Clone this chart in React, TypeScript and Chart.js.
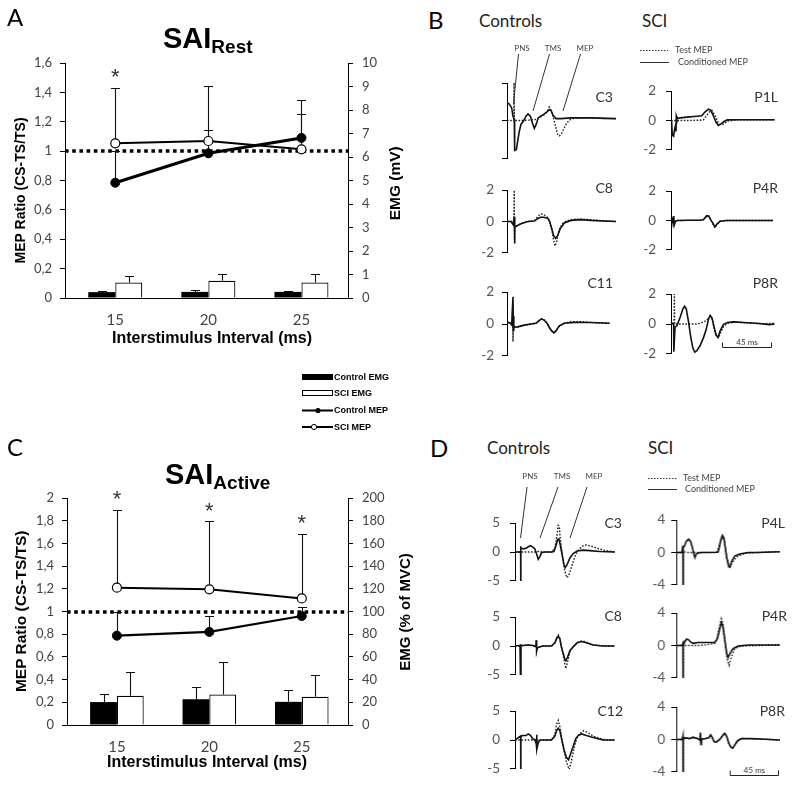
import React, { useEffect, useRef } from "react";
import { Chart, registerables } from "chart.js";
Chart.register(...registerables);

const ARIAL = "'Liberation Sans', Arial, sans-serif";
const CAL = "Lato, 'Open Sans', sans-serif";

// ---------------- Panel A / C data ----------------
const ISI = [15, 20, 25];
const ISI_LABELS = ["15", "20", "25"];

const A_CTRL_MEP = [0.785, 0.985, 1.09];
const A_CTRL_MEP_SD = [0.215, 0.16, 0.166];
const A_SCI_MEP = [1.053, 1.069, 1.012];
const A_SCI_MEP_SD = [0.38, 0.374, 0.336];
const A_CTRL_EMG = [0.25, 0.26, 0.26];
const A_CTRL_EMG_SD = [0.05, 0.1, 0.05];
const A_SCI_EMG = [0.66, 0.73, 0.66];
const A_SCI_EMG_SD = [0.27, 0.3, 0.37];
const A_SIG = [true, false, false];
const A_LEFT_TICKS = [0, 0.2, 0.4, 0.6, 0.8, 1, 1.2, 1.4, 1.6];
const A_LEFT_LABELS = ["0", "0,2", "0,4", "0,6", "0,8", "1", "1,2", "1,4", "1,6"];
const A_RIGHT_TICKS = [0, 1, 2, 3, 4, 5, 6, 7, 8, 9, 10];
const A_RIGHT_LABELS = ["0", "1", "2", "3", "4", "5", "6", "7", "8", "9", "10"];

const C_CTRL_MEP = [0.787, 0.82, 0.96];
const C_CTRL_MEP_SD = [0.21, 0.14, 0.08];
const C_SCI_MEP = [1.21, 1.195, 1.115];
const C_SCI_MEP_SD = [0.685, 0.6, 0.57];
const C_CTRL_EMG = [20.2, 22.7, 20.4];
const C_CTRL_EMG_SD = [7.3, 10.5, 10.8];
const C_SCI_EMG = [25.7, 26.8, 24.8];
const C_SCI_EMG_SD = [20.7, 28.3, 19.5];
const C_SIG = [true, true, true];
const C_LEFT_TICKS = [0, 0.2, 0.4, 0.6, 0.8, 1, 1.2, 1.4, 1.6, 1.8, 2];
const C_LEFT_LABELS = ["0", "0,2", "0,4", "0,6", "0,8", "1", "1,2", "1,4", "1,6", "1,8", "2"];
const C_RIGHT_TICKS = [0, 20, 40, 60, 80, 100, 120, 140, 160, 180, 200];
const C_RIGHT_LABELS = ["0", "20", "40", "60", "80", "100", "120", "140", "160", "180", "200"];

const REF_RATIO = 1;

// ---------------- Waveforms [ms, value] ----------------
const B_C3_TEST = [[0,0],[6.2,0],[6.5,2.1],[6.8,0],[12,0],[20,0.02],[26,0.05],[30,0.15],[34,0.3],[37,0.5],[38.8,0.72],[40.4,0.55],[42.5,0.15],[44.5,-0.3],[46.5,-0.75],[48,-0.82],[50,-0.7],[52.5,-0.4],[55,-0.12],[58,0.05],[62,0.12],[70,0.15],[80,0.13],[90,0.1],[100,0.1]];
const B_C3_COND = [[0,0.95],[2.1,0.88],[4.3,0.67],[5.5,0.23],[6.7,0.05],[7,-1.6],[8.6,-1.55],[9.8,-1.1],[11.3,-0.57],[12.8,-0.21],[15,-0.04],[17.4,0.23],[19.3,0.35],[21.4,0.23],[23.2,-0.12],[25.1,-0.42],[26.9,-0.18],[28.7,0.14],[31.2,0.25],[34.3,0.35],[36.7,0.46],[38.8,0.58],[40.4,0.53],[42.2,0.28],[45,0.1],[49.5,0.1],[58.7,0.14],[77,0.14],[100,0.1]];
const B_C8_TEST = [[0,0],[5,0],[6.3,-0.1],[6.6,2.0],[6.9,-1.2],[7.3,-0.35],[9.2,-0.27],[12.8,-0.14],[19,0],[25.1,0.05],[28.1,0.3],[30.6,0.48],[33.6,0.45],[37.3,0.25],[39.1,0],[41,-0.5],[42.8,-1.2],[44,-1.56],[45.5,-1.3],[47.5,-0.6],[50.5,-0.15],[55,0.05],[61,0.14],[70,0.14],[77,0.12],[85,0.05],[100,0]];
const B_C8_COND = [[0,0],[3.7,0],[5.5,-0.18],[6.7,0.3],[6.9,-1.4],[7.3,-0.36],[9.2,-0.27],[12.8,-0.14],[19,0],[25.1,0.03],[28.1,0.18],[30.6,0.27],[33.6,0.27],[37.3,0.21],[39.1,0],[41,-0.44],[42.8,-0.9],[44.6,-1.07],[46.5,-0.9],[48.9,-0.44],[52.6,-0.09],[58.7,0.07],[67.9,0.12],[77.1,0.07],[100,0]];
const B_C11_TEST = [[0,0.1],[3.1,0.05],[4.8,-0.05],[5.2,1.2],[5.5,-1.1],[5.8,0.3],[6.1,-0.2],[6.7,-0.2],[9.8,-0.18],[15.9,-0.07],[22,0],[26.6,0.05],[29.7,0.23],[31.8,0.32],[34.3,0.25],[36.7,0.05],[39.1,-0.25],[41.6,-0.5],[43.4,-0.6],[45.3,-0.42],[48,-0.12],[52.6,0.05],[58,0.14],[70,0.14],[77,0.09],[94,0.05]];
const B_C11_COND = [[0,0.14],[3.1,0.05],[4.3,-0.05],[5.5,1.7],[5.8,-0.4],[6.1,0.5],[6.4,-0.2],[9.8,-0.18],[15.9,-0.07],[22,0],[26.6,0.05],[29.7,0.23],[31.8,0.32],[34.3,0.23],[36.7,0.05],[39.1,-0.25],[41.6,-0.47],[43.4,-0.53],[45.3,-0.39],[48,-0.12],[52.6,0.05],[61.8,0.1],[77.1,0.09],[94,0.05]];
const B_P1L_TEST = [[0,0],[5.5,0],[14.7,0],[26.9,0.02],[30,0.05],[33,0.36],[36.1,0.64],[37.9,0.68],[40.4,0.36],[43.4,-0.12],[45.9,-0.3],[48.3,-0.25],[52,-0.04],[60.6,0.04],[95.7,0.05]];
const B_P1L_COND = [[0,0],[0.6,-0.12],[1.2,-1.0],[2.4,-1.07],[3.4,-0.57],[4.3,-0.3],[4.6,-0.75],[4.9,0.3],[5.5,0.14],[8.6,0.18],[14.7,0.23],[23.9,0.29],[28.4,0.32],[31.5,0.59],[34.6,0.77],[36.7,0.71],[39.1,0.32],[41.6,-0.12],[43.7,-0.34],[45.9,-0.25],[48.9,-0.07],[52,0.04],[60.6,0.05],[95.7,0.05]];
const B_P4R_TEST = [[0,0],[1.2,0.1],[1.8,-0.2],[2.4,0.3],[3.1,-0.3],[4.3,0],[17.7,0.01],[26.9,0.01],[30,0.05],[33,0.3],[34.9,0.3],[36.7,0.05],[39.1,-0.3],[40.7,-0.49],[42.2,-0.3],[45.3,-0.05],[51.4,0],[72.8,0],[94.2,0]];
const B_P4R_COND = [[0,0],[1.2,0.12],[1.8,-0.19],[2.4,0.3],[3.1,-0.26],[4.3,-0.05],[5.5,0],[17.7,0.02],[26.9,0.02],[30,0.07],[33,0.33],[34.9,0.3],[36.7,0.04],[39.1,-0.23],[40.4,-0.44],[42.2,-0.26],[45.3,-0.05],[51.4,0],[72.8,0],[94.2,0]];
const B_P8R_TEST = [[0,0],[2.8,0],[3.1,2.0],[3.4,0],[5.5,0],[23.9,0],[26.9,0.05],[30,0.14],[32.4,0.23],[34.6,0.4],[36.1,0.49],[37.9,0.32],[39.8,-0.3],[41.6,-0.7],[44,-0.91],[45.9,-0.56],[48.9,-0.12],[52.9,0.05],[60.6,0.14],[72.8,0.05],[85,0.02],[95.7,0.05]];
const B_P8R_COND = [[0,0],[1.2,0.05],[2.4,0],[2.6,-1.85],[3.7,-0.21],[5.5,-0.12],[8.6,0.49],[11,1.02],[12.5,1.19],[14.1,1.02],[16.2,0.14],[18.3,-0.91],[20.2,-1.61],[22,-1.88],[23.9,-1.79],[26.9,-1.44],[30,-0.91],[32.4,-0.39],[34.6,0.32],[36.1,0.58],[37.9,0.4],[39.8,-0.21],[41.6,-0.74],[43.4,-0.91],[45.3,-0.47],[48.3,-0.04],[52,0.1],[57.5,0.14],[66.7,0.1],[78.9,0.05],[91.1,-0.04],[95.7,0]];

const D_C3_TEST = [[0,0],[18,0],[19.9,0],[21.4,0.1],[24.5,0],[33.6,0],[36.7,0.75],[38.2,2.34],[39.8,4.6],[40.7,4.5],[41.9,1.9],[43.7,-0.81],[45.6,-3.06],[47.4,-4.41],[49.2,-4.19],[52,-2.6],[55,-0.81],[58.1,0.32],[62.7,1.08],[65.7,1.22],[71.9,0.9],[81,0.32],[91.7,0]];
const D_C3_COND = [[0,0],[5.2,0],[5.3,1.0],[5.35,-9],[5.45,0.5],[6.1,0.63],[7.6,0.54],[10.1,0.63],[12.2,0.9],[14.4,1.08],[16.2,0.9],[18.3,0.54],[19.9,-0.36],[21.4,-1.26],[22.9,-0.81],[24.5,-0.1],[27.5,0],[33.6,0],[35.8,0.09],[37.6,0.99],[39.1,2.1],[40.4,2.25],[41.9,0.99],[43.7,-0.81],[45,-2.16],[46.2,-2.7],[48,-2.16],[50.5,-1.04],[53.5,-0.27],[57.2,0.18],[62.7,0.32],[68.8,0.23],[78,0.09],[91.7,0]];
const D_C8_TEST = [[0,0],[4.6,0.05],[5.2,0.2],[5.3,-9],[5.45,0.1],[7.6,0.09],[12.2,0.15],[16.8,0.05],[19.3,-0.2],[19.6,1.0],[19.9,-0.9],[20.5,-0.36],[22.9,-0.1],[26,0],[33.6,0],[36.7,0.6],[38.2,1.4],[39.8,1.9],[41.3,1.3],[42.5,0],[44.3,-1.5],[45.9,-3.2],[46.8,-3.9],[48.3,-2.8],[50.5,-1.0],[53.5,-0.1],[57.2,0.6],[62.1,0.9],[65.7,0.65],[71.9,0.2],[81,0],[91.7,0]];
const D_C8_COND = [[0,0],[4.6,0.09],[5.2,0.3],[5.3,-9],[5.45,0.1],[7.6,0.09],[12.2,0.18],[16.8,0.09],[19.3,-0.14],[19.6,1.0],[19.9,-0.82],[20.5,-0.36],[22.9,-0.14],[26,0],[33.6,0],[36.7,0.55],[38.2,1.23],[39.8,1.68],[41.3,1.23],[42.5,0],[44.3,-1.27],[45.9,-2.27],[46.8,-2.55],[48.3,-1.95],[50.5,-0.82],[53.5,-0.14],[57.2,0.55],[61.2,0.77],[65.7,0.55],[71.9,0.18],[81,0],[91.7,0]];
const D_C12_TEST = [[0,0],[18.3,0],[19.6,0.3],[19.9,-1.6],[20.2,0.2],[21.4,-0.2],[23.2,0],[33.6,0],[36.7,0.9],[38.2,2.7],[39.8,3.4],[41.3,2.3],[43.1,0.2],[45,-1.8],[47.4,-3.86],[49.8,-5.1],[51.7,-3.86],[54.1,-1.6],[56.6,0.2],[59,1.0],[62.7,1.59],[66.4,1.36],[71.9,0.68],[81,0.09],[91.7,0]];
const D_C12_COND = [[0,0],[5.2,0.7],[5.3,-9],[5.45,0.6],[6.1,0.68],[7.6,0.77],[10.1,0.77],[12.2,1.05],[14.4,0.77],[16.2,0.23],[18.3,0],[19.6,-0.68],[19.9,0.9],[20.2,-1.6],[21.4,-0.45],[23.2,0],[26,0],[33.6,0],[36.7,0.68],[38.2,1.59],[39.8,2.05],[41.3,1.59],[42.8,0.23],[45,-1.59],[47.4,-3.05],[49.2,-3.4],[50.9,-2.5],[53.5,-1.14],[55.9,0.23],[58.1,0.77],[61.2,1.05],[65.7,0.77],[71.9,0.45],[81,0],[91.7,0]];

const D_P4L_TEST = [[0,0],[5.5,0],[6.1,0.8],[6.2,-9],[6.4,0.1],[10,0],[20,0],[36.7,0],[38.2,0.4],[40.7,1.4],[42.2,2.0],[44.3,1.2],[46.2,-0.62],[48.6,-1.96],[50.5,-1.4],[55,-0.55],[62.7,-0.1],[80,0.05],[94.8,0.1]];
const D_P4L_COND = [[0,0],[5.2,0],[6.1,0.84],[6.2,-9],[6.35,0.6],[6.7,0.65],[7.6,0.84],[9.2,1.38],[11.3,1.64],[13.1,1.38],[15,0.47],[16.2,-0.25],[17.1,-0.62],[18.3,-0.18],[19.9,-0.07],[22.9,0],[38.2,0.04],[39.4,0.65],[40.7,1.56],[42.2,2.1],[43.7,1.75],[45,0.47],[46.2,-0.62],[48,-1.71],[49.2,-1.82],[50.5,-1.16],[53.5,-0.44],[58.1,-0.18],[65.7,0],[74.9,0],[94.8,0.1]];
const D_P4R_TEST = [[0,0],[5.5,0],[6.1,0.2],[6.2,-9],[6.4,0],[20,0],[26,0.05],[35.2,0.25],[37.6,0.98],[40.4,2.83],[41.3,3.3],[42.8,2.6],[45,0.07],[46.8,-1.76],[48.3,-2.43],[50.5,-1.4],[53.5,-0.37],[59.6,-0.07],[94.8,0.07]];
const D_P4R_COND = [[0,0],[5.2,0],[6.1,0.26],[6.2,-9],[6.35,0.1],[6.7,0.07],[7.6,0.44],[9.5,0.81],[11.3,0.7],[13.1,0.44],[15.3,0.26],[19.9,0.37],[26,0.37],[35.2,0.37],[37.6,0.81],[39.8,2.1],[41.3,2.83],[42.5,2.46],[44.3,0.81],[46.2,-1.03],[47.4,-1.47],[49.2,-0.96],[52,-0.37],[56.6,-0.07],[65.7,0.07],[94.8,0.07]];
const D_P8R_TEST = [[0,0],[5.5,0],[6.1,0.4],[6.2,-9],[6.4,0.1],[9.2,0.2],[12.2,0.1],[15.3,0.25],[19.9,0.1],[21.4,-0.05],[22,0.84],[22.6,-0.62],[23,0.05],[26,0.1],[29.7,0.2],[31.5,0.55],[32.7,0.3],[34.6,-0.2],[36.7,-0.3],[39.8,0],[42.5,0.48],[44.3,0.77],[46.2,0.4],[48,-0.44],[49.8,-0.92],[51.7,-1.06],[53.5,-0.7],[56,-0.18],[59.6,0.11],[68.8,0.11],[81,0.04],[94.8,-0.07]];
const D_P8R_COND = [[0,0],[5.5,0],[6.1,0.4],[6.2,-9],[6.4,0.1],[9.2,0.2],[12.2,0.1],[15.3,0.29],[19.9,0.1],[21.4,-0.05],[22,0.84],[22.6,-0.62],[23,0.05],[26,0.1],[29.7,0.2],[31.5,0.55],[32.7,0.3],[34.6,-0.26],[36.7,-0.33],[39.8,0],[42.5,0.48],[44.3,0.77],[46.2,0.4],[48,-0.44],[49.8,-0.92],[51.7,-1.06],[53.5,-0.7],[56,-0.18],[59.6,0.11],[68.8,0.11],[81,0.04],[94.8,-0.07]];

const B_TICK_LABELS = ["-2", "0", "2"];
const D_CTRL_TICK_LABELS = ["-5", "0", "5"];
const D_SCI_TICK_LABELS = ["-4", "0", "4"];
const SCALE_BAR_MS = 45;
const SCALE_BAR_LABEL = "45 ms";

// ---------------- helpers ----------------
const PX_PER_MS = 1.09;

function ChartBox({ x, y, w, h, make }: any) {
  const ref = useRef<HTMLCanvasElement>(null);
  useEffect(() => {
    const c = new Chart(ref.current as HTMLCanvasElement, make());
    return () => c.destroy();
  }, []);
  return (
    <canvas ref={ref} width={w} height={h}
      style={{ position: "absolute", left: x, top: y, width: w, height: h }} />
  );
}

function T({ x, y, children, size = 14, align = "left", weight = 400, family = CAL, color = "#000", rotate = false }: any) {
  const lh = size * 1.2;
  const st: any = {
    position: "absolute", top: y - lh / 2, height: lh, lineHeight: lh + "px",
    fontSize: size, fontWeight: weight, fontFamily: family, color, whiteSpace: "nowrap",
  };
  if (align === "left") { st.left = x; }
  else if (align === "right") { st.left = x - 300; st.width = 300; st.textAlign = "right"; }
  else { st.left = x - 150; st.width = 300; st.textAlign = "center"; }
  if (rotate) { st.transform = "rotate(-90deg)"; st.transformOrigin = "50% 50%"; }
  return <div style={st}>{children}</div>;
}

const mainDeco = {
  id: "mainDeco",
  beforeDatasetsDraw(chart: any) {
    const o = chart.options.plugins.mainDeco;
    const { ctx, chartArea } = chart;
    const ys = chart.scales.y;
    ctx.save();
    const yr = Math.round(ys.getPixelForValue(o.refValue));
    ctx.strokeStyle = "#000";
    ctx.lineWidth = 3.5;
    ctx.setLineDash([3.6, 3.6]);
    ctx.beginPath();
    ctx.moveTo(chartArea.left, yr);
    ctx.lineTo(chartArea.right, yr);
    ctx.stroke();
    ctx.setLineDash([]);
    ctx.lineWidth = 1.1;
    ctx.strokeStyle = "#111";
    chart.data.datasets.forEach((ds: any, di: number) => {
      if (!ds.errors) return;
      const meta = chart.getDatasetMeta(di);
      const sc = chart.scales[meta.yAxisID];
      meta.data.forEach((el: any, i: number) => {
        const v = ds.data[i].y;
        const x = Math.round(el.x) + 0.5;
        const y0 = sc.getPixelForValue(v);
        const y1 = Math.round(sc.getPixelForValue(v + ds.errors[i])) + 0.5;
        ctx.beginPath();
        ctx.moveTo(x, y0);
        ctx.lineTo(x, y1);
        ctx.moveTo(x - 4.5, y1);
        ctx.lineTo(x + 4.5, y1);
        ctx.stroke();
      });
    });
    ctx.restore();
  },
  afterDatasetsDraw(chart: any) {
    const { ctx } = chart;
    ctx.save();
    ctx.fillStyle = "#333";
    ctx.font = "22px " + ARIAL;
    ctx.textAlign = "center";
    ctx.textBaseline = "alphabetic";
    chart.data.datasets.forEach((ds: any, di: number) => {
      if (!ds.sig) return;
      const meta = chart.getDatasetMeta(di);
      const sc = chart.scales[meta.yAxisID];
      meta.data.forEach((el: any, i: number) => {
        if (!ds.sig[i]) return;
        const top = sc.getPixelForValue(ds.data[i].y + ds.errors[i]);
        ctx.fillText("*", el.x, top - 16 + 12.5);
      });
    });
    ctx.restore();
  },
};

function mainConfig(p: any) {
  const pts = (arr: number[]) => ISI.map((x, i) => ({ x, y: arr[i] }));
  const tickFont = { family: CAL, size: 13 };
  return {
    type: "bar",
    data: {
      datasets: [
        { type: "line", label: "Control MEP", data: pts(p.ctrlMep), errors: p.ctrlMepSd, yAxisID: "y",
          borderColor: "#000", borderWidth: p.ctrlLineW, pointRadius: 4.5, pointBackgroundColor: "#000",
          pointBorderColor: "#000", pointBorderWidth: 1, order: 0 },
        { type: "line", label: "SCI MEP", data: pts(p.sciMep), errors: p.sciMepSd, sig: p.sig, yAxisID: "y",
          borderColor: "#000", borderWidth: p.sciLineW, pointRadius: 4.5, pointBackgroundColor: "#fff",
          pointBorderColor: "#000", pointBorderWidth: 1.2, order: 0 },
        { type: "bar", label: "Control EMG", data: pts(p.ctrlEmg), errors: p.ctrlEmgSd, yAxisID: "y2",
          backgroundColor: "#000", borderColor: "#000", borderWidth: 0, order: 1,
          categoryPercentage: 0.58, barPercentage: 1 },
        { type: "bar", label: "SCI EMG", data: pts(p.sciEmg), errors: p.sciEmgSd, yAxisID: "y2",
          backgroundColor: "#fff", borderColor: "#000", borderWidth: 1.2, order: 1,
          categoryPercentage: 0.58, barPercentage: 1 },
      ],
    },
    options: {
      animation: false, responsive: false, maintainAspectRatio: false, events: [],
      layout: { padding: { top: p.padTop, left: 0, right: 0, bottom: 0 } },
      plugins: { legend: { display: false }, tooltip: { enabled: false }, mainDeco: { refValue: REF_RATIO } },
      scales: {
        x: {
          type: "linear", min: 12.3, max: 27.5, offset: false,
          afterBuildTicks: (s: any) => { s.ticks = ISI.map((v) => ({ value: v })); },
          afterFit: (s: any) => { s.height = p.xh; },
          ticks: { callback: (_v: any, i: number) => ISI_LABELS[i], color: "#444",
            font: { family: CAL, size: 15 }, padding: 13, maxRotation: 0, autoSkip: false },
          grid: { display: false, drawTicks: false },
          border: { display: true, color: "#000", width: 1 },
        },
        y: {
          position: "left", min: 0, max: p.leftTicks[p.leftTicks.length - 1],
          afterBuildTicks: (s: any) => { s.ticks = p.leftTicks.map((v: number) => ({ value: v })); },
          afterFit: (s: any) => { s.width = p.leftW; },
          ticks: { callback: (_v: any, i: number) => p.leftLabels[i], color: "#444", font: tickFont, padding: 8 },
          grid: { drawOnChartArea: false, drawTicks: true, tickLength: 5, color: "#000", lineWidth: 1 },
          border: { display: true, color: "#000", width: 1 },
        },
        y2: {
          position: "right", min: 0, max: p.rightTicks[p.rightTicks.length - 1],
          afterBuildTicks: (s: any) => { s.ticks = p.rightTicks.map((v: number) => ({ value: v })); },
          afterFit: (s: any) => { s.width = p.rightW; },
          ticks: { callback: (_v: any, i: number) => p.rightLabels[i], color: "#444", font: tickFont, padding: 9 },
          grid: { drawOnChartArea: false, drawTicks: true, tickLength: 5, color: "#000", lineWidth: 1 },
          border: { display: true, color: "#000", width: 1 },
        },
      },
    },
    plugins: [mainDeco],
  };
}

const scaleBarPlugin = {
  id: "scaleBar",
  afterDatasetsDraw(chart: any) {
    const o = chart.options.plugins.scaleBar;
    if (!o || !o.on) return;
    const { ctx } = chart;
    const xs = chart.scales.x, ys = chart.scales.y;
    const x0 = Math.round(xs.getPixelForValue(o.t0)) + 0.5;
    const x1 = Math.round(xs.getPixelForValue(o.t0 + SCALE_BAR_MS)) + 0.5;
    const y = Math.round(ys.getPixelForValue(o.v)) + 0.5;
    ctx.save();
    ctx.strokeStyle = "#222";
    ctx.lineWidth = 1;
    ctx.beginPath();
    ctx.moveTo(x0, y - 5); ctx.lineTo(x0, y); ctx.lineTo(x1, y); ctx.lineTo(x1, y - 5);
    ctx.stroke();
    ctx.fillStyle = "#333";
    ctx.font = "8px " + CAL;
    ctx.textAlign = "center";
    ctx.textBaseline = "middle";
    ctx.fillText(SCALE_BAR_LABEL, (x0 + x1) / 2, y - 5);
    ctx.restore();
  },
};

const PT = 10, PB = 10, AXW = 40;

function traceConfig(t: any) {
  const pts = (a: number[][]) => a.map(([x, y]) => ({ x, y }));
  return {
    type: "line",
    data: {
      datasets: [
        { data: pts(t.test), borderColor: "#222", borderWidth: 1.4, borderDash: [1.6, 1.6],
          pointRadius: 0, order: 1 },
        { data: pts(t.cond), borderColor: "#111", borderWidth: 1.6, pointRadius: 0, order: 0 },
      ],
    },
    options: {
      animation: false, responsive: false, maintainAspectRatio: false, events: [],
      layout: { padding: { top: PT, bottom: PB, left: 0, right: 3 } },
      plugins: { legend: { display: false }, tooltip: { enabled: false },
        scaleBar: t.bar ? { on: true, t0: t.bar.t0, v: t.bar.v } : { on: false } },
      scales: {
        x: { type: "linear", display: false, min: 0, max: t.col.xmax },
        y: {
          min: -t.range, max: t.range,
          afterBuildTicks: (s: any) => { s.ticks = [-t.range, 0, t.range].map((v) => ({ value: v })); },
          afterFit: (s: any) => { s.width = AXW; },
          ticks: { display: !!t.labels, callback: (_v: any, i: number) => (t.labels ? t.labels[i] : ""),
            color: "#555", font: { family: CAL, size: 13.5 }, padding: t.col.pad },
          grid: { drawOnChartArea: false, drawTicks: true, tickLength: 5, color: "#000", lineWidth: 1 },
          border: { display: true, color: "#000", width: 1 },
        },
      },
    },
    plugins: [scaleBarPlugin],
  };
}

const B_CTRL = { axisX: 506.5, xmax: 100, pad: 8 };
const B_SCI = { axisX: 670.5, xmax: 96, pad: 10 };
const D_CTRL = { axisX: 515, xmax: 92, pad: 10 };
const D_SCI = { axisX: 676, xmax: 95, pad: 6 };

const TRACES = [
  { name: "C3", col: B_CTRL, top: 83, bottom: 158, range: 2, labels: null, test: B_C3_TEST, cond: B_C3_COND, nx: 613, ny: 97 },
  { name: "C8", col: B_CTRL, top: 184, bottom: 259, range: 2, labels: B_TICK_LABELS, test: B_C8_TEST, cond: B_C8_COND, nx: 613, ny: 188 },
  { name: "C11", col: B_CTRL, top: 286, bottom: 362, range: 2, labels: B_TICK_LABELS, test: B_C11_TEST, cond: B_C11_COND, nx: 613, ny: 283 },
  { name: "P1L", col: B_SCI, top: 83, bottom: 158, range: 2, labels: B_TICK_LABELS, test: B_P1L_TEST, cond: B_P1L_COND, nx: 778, ny: 97 },
  { name: "P4R", col: B_SCI, top: 183, bottom: 258, range: 2, labels: B_TICK_LABELS, test: B_P4R_TEST, cond: B_P4R_COND, nx: 778, ny: 188 },
  { name: "P8R", col: B_SCI, top: 286, bottom: 362, range: 2, labels: B_TICK_LABELS, test: B_P8R_TEST, cond: B_P8R_COND, nx: 778, ny: 283, bar: { t0: 47, v: -1.56 } },
  { name: "C3", col: D_CTRL, top: 515, bottom: 589, range: 5, labels: D_CTRL_TICK_LABELS, test: D_C3_TEST, cond: D_C3_COND, nx: 622, ny: 523 },
  { name: "C8", col: D_CTRL, top: 609, bottom: 683, range: 5, labels: D_CTRL_TICK_LABELS, test: D_C8_TEST, cond: D_C8_COND, nx: 622, ny: 616 },
  { name: "C12", col: D_CTRL, top: 703, bottom: 777, range: 5, labels: D_CTRL_TICK_LABELS, test: D_C12_TEST, cond: D_C12_COND, nx: 623, ny: 711 },
  { name: "P4L", col: D_SCI, top: 516, bottom: 589, range: 4, labels: D_SCI_TICK_LABELS, test: D_P4L_TEST, cond: D_P4L_COND, nx: 785, ny: 523 },
  { name: "P4R", col: D_SCI, top: 609, bottom: 682, range: 4, labels: D_SCI_TICK_LABELS, test: D_P4R_TEST, cond: D_P4R_COND, nx: 787, ny: 616 },
  { name: "P8R", col: D_SCI, top: 703, bottom: 776, range: 4, labels: D_SCI_TICK_LABELS, test: D_P8R_TEST, cond: D_P8R_COND, nx: 785, ny: 711, bar: { t0: 48.6, v: -4.44 } },
];

const A_CFG = { ctrlMep: A_CTRL_MEP, ctrlMepSd: A_CTRL_MEP_SD, sciMep: A_SCI_MEP, sciMepSd: A_SCI_MEP_SD,
  ctrlEmg: A_CTRL_EMG, ctrlEmgSd: A_CTRL_EMG_SD, sciEmg: A_SCI_EMG, sciEmgSd: A_SCI_EMG_SD, sig: A_SIG,
  leftTicks: A_LEFT_TICKS, leftLabels: A_LEFT_LABELS, rightTicks: A_RIGHT_TICKS, rightLabels: A_RIGHT_LABELS,
  padTop: 63, leftW: 65, rightW: 52, xh: 32, ctrlLineW: 3, sciLineW: 2 };
const C_CFG = { ctrlMep: C_CTRL_MEP, ctrlMepSd: C_CTRL_MEP_SD, sciMep: C_SCI_MEP, sciMepSd: C_SCI_MEP_SD,
  ctrlEmg: C_CTRL_EMG, ctrlEmgSd: C_CTRL_EMG_SD, sciEmg: C_SCI_EMG, sciEmgSd: C_SCI_EMG_SD, sig: C_SIG,
  leftTicks: C_LEFT_TICKS, leftLabels: C_LEFT_LABELS, rightTicks: C_RIGHT_TICKS, rightLabels: C_RIGHT_LABELS,
  padTop: 78, leftW: 67, rightW: 52, xh: 45, ctrlLineW: 2.2, sciLineW: 2 };

export default function App() {
  return (
    <div style={{ position: "absolute", left: 0, top: 0, width: 794, height: 796, background: "#fff", overflow: "hidden" }}>
      <ChartBox x={0} y={0} w={400} h={330} make={() => mainConfig(A_CFG)} />
      <ChartBox x={0} y={420} w={400} h={350} make={() => mainConfig(C_CFG)} />
      {TRACES.map((t, i) => {
        const w = AXW + t.col.xmax * PX_PER_MS + 3;
        const h = t.bottom - t.top + PT + PB;
        return <ChartBox key={i} x={t.col.axisX - AXW} y={t.top - PT} w={w} h={h} make={() => traceConfig(t)} />;
      })}
      {TRACES.map((t, i) => (
        <T key={"n" + i} x={t.nx} y={t.ny} align="right" size={14} color="#333">{t.name}</T>
      ))}

      {/* panel letters and headings */}
      <T x={7} y={17} size={24}>A</T>
      <T x={428} y={20} size={24}>B</T>
      <T x={7} y={447} size={24}>C</T>
      <T x={430} y={448} size={24}>D</T>
      <T x={479} y={21} size={17} color="#222">Controls</T>
      <T x={642} y={21} size={17} color="#222">SCI</T>
      <T x={487} y={448} size={17} color="#222">Controls</T>
      <T x={648} y={448} size={17} color="#222">SCI</T>

      <div style={{ position: "absolute", left: 163, top: 21, fontFamily: ARIAL, fontWeight: 700, fontSize: 29, lineHeight: "34px", whiteSpace: "nowrap" }}>
        SAI<span style={{ fontSize: 19, position: "relative", top: 5 }}>Rest</span>
      </div>
      <div style={{ position: "absolute", left: 165, top: 457, fontFamily: ARIAL, fontWeight: 700, fontSize: 29, lineHeight: "34px", whiteSpace: "nowrap" }}>
        SAI<span style={{ fontSize: 19, position: "relative", top: 5 }}>Active</span>
      </div>

      {/* axis titles */}
      <T x={20} y={190} size={14} weight={700} family={ARIAL} align="center" rotate>MEP Ratio  (CS-TS/TS)</T>
      <T x={395} y={183} size={15.5} weight={700} family={ARIAL} align="center" rotate>EMG (mV)</T>
      <T x={212} y={338} size={16} weight={700} family={ARIAL} align="center">Interstimulus Interval  (ms)</T>
      <T x={21} y={611} size={15.5} weight={700} family={ARIAL} align="center" rotate>MEP Ratio  (CS-TS/TS)</T>
      <T x={405} y={612} size={15} weight={700} family={ARIAL} align="center" rotate>EMG (% of MVC)</T>
      <T x={207} y={762} size={16} weight={700} family={ARIAL} align="center">Interstimulus Interval  (ms)</T>

      {/* middle legend */}
      <T x={334} y={377} size={9} weight={700} family={ARIAL}>Control EMG</T>
      <T x={334} y={393.5} size={9} weight={700} family={ARIAL}>SCI EMG</T>
      <T x={334} y={410.5} size={9} weight={700} family={ARIAL}>Control MEP</T>
      <T x={334} y={427} size={9} weight={700} family={ARIAL}>SCI MEP</T>

      {/* trace annotations */}
      <T x={522} y={49} size={8} align="center" color="#444">PNS</T>
      <T x={553} y={49} size={8} align="center" color="#444">TMS</T>
      <T x={585} y={49} size={8} align="center" color="#444">MEP</T>
      <T x={530} y={477} size={8} align="center" color="#444">PNS</T>
      <T x={562} y={477} size={8} align="center" color="#444">TMS</T>
      <T x={594} y={477} size={8} align="center" color="#444">MEP</T>
      <T x={675} y={50} size={9} color="#444">Test MEP</T>
      <T x={678} y={62} size={9} color="#444">Conditioned MEP</T>
      <T x={683} y={478} size={9} color="#444">Test MEP</T>
      <T x={685} y={489.5} size={9} color="#444">Conditioned MEP</T>

      <svg width={794} height={796} style={{ position: "absolute", left: 0, top: 0, pointerEvents: "none" }}>
        <g stroke="#333" strokeWidth={1}>
          <line x1={518.5} y1={54} x2={513.5} y2={104} />
          <line x1={549.5} y1={54} x2={533} y2={111} />
          <line x1={580.5} y1={54} x2={563} y2={111} />
          <line x1={527} y1={487} x2={520.5} y2={538} />
          <line x1={558} y1={487} x2={540} y2={538} />
          <line x1={587} y1={487} x2={570} y2={538} />
          <line x1={640} y1={50.5} x2={668} y2={50.5} strokeDasharray="1.5 1.5" />
          <line x1={640} y1={62.5} x2={669} y2={62.5} />
          <line x1={648} y1={478.5} x2={677} y2={478.5} strokeDasharray="1.5 1.5" />
          <line x1={648} y1={489.5} x2={677} y2={489.5} />
        </g>
        <rect x={302} y={374} width={31} height={6} fill="#000" />
        <rect x={302.5} y={390.5} width={30} height={5} fill="#fff" stroke="#000" strokeWidth={1} />
        <line x1={302} y1={410.5} x2={333} y2={410.5} stroke="#000" strokeWidth={2} />
        <circle cx={318} cy={410.5} r={2.6} fill="#000" />
        <line x1={302} y1={427} x2={333} y2={427} stroke="#000" strokeWidth={2} />
        <circle cx={314} cy={427} r={2.6} fill="#fff" stroke="#000" strokeWidth={1} />
      </svg>
    </div>
  );
}
